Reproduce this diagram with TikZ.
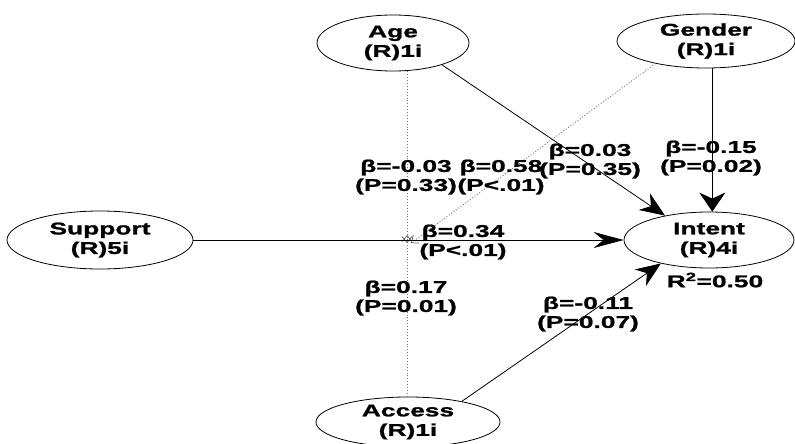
\documentclass[tikz,border=0pt]{standalone}
\usepackage{fontspec}
\newfontfamily\lblfont{Liberation Sans}[FakeStretch=1.55, FakeBold=1.2]
\usetikzlibrary{shapes.geometric,arrows.meta}

\begin{document}
\begin{tikzpicture}[x=1pt,y=-1pt,
  latent/.style={ellipse, draw, line width=0.8pt, inner sep=0pt, align=center,
    font=\lblfont\bfseries\fontsize{17}{19.5}\selectfont},
  coef/.style={align=center, inner sep=0pt,
    font=\lblfont\bfseries\fontsize{17}{19}\selectfont},
  link/.style={draw, line width=0.8pt},
  tiph/.style={-{Stealth[length=30pt,width=16pt,inset=10pt]}},
  tipv/.style={-{Stealth[length=19pt,width=26pt,inset=6pt]}},
  tipd/.style={-{Stealth[length=25pt,width=20pt,inset=8pt]}},
  moder/.style={draw=black!55, dotted, line width=0.9pt,
    -{Straight Barb[length=6pt,width=10pt,line width=0.7pt,black!60]}}
]
\fill[white] (0,0) rectangle (795,444);
\useasboundingbox (0,0) rectangle (795,444);

% constructs
\node[latent, minimum width=186pt, minimum height=58pt] (support) at (100,240) {Support\\(R)5i};
\node[latent, minimum width=152pt, minimum height=56pt] (age) at (393,43) {Age\\(R)1i};
\node[latent, minimum width=178pt, minimum height=54pt] (gender) at (706,41) {Gender\\(R)1i};
\node[latent, minimum width=170pt, minimum height=56pt] (intent) at (709,240) {Intent\\(R)4i};
\node[latent, minimum width=184pt, minimum height=50pt] (access) at (408,422) {Access\\(R)1i};

% moderation point on the Support path
\coordinate (jn) at (407,240);

% moderating effects (dotted)
\draw[moder] (jn |- age.south) -- ([yshift=-3pt]jn);
\draw[moder] (jn |- access.north) -- ([yshift=5pt]jn);
\draw[moder] (gender.204) -- ([shift={(4pt,-3pt)}]jn);

% direct effects
\draw[link, tiph] (support) -- (intent);
\draw[link, tipd] (age.-24) -- (intent.151);
\draw[link, tipv] (gender.-77.5) -- (gender.-77.5 |- intent.north);
\draw[link, tipd] (access.21) -- (intent.206);

% path coefficients
\node[coef] (cage)  at (406,177) {β=-0.03\\(P=0.33)};
\node[coef] (cgen)  at (501,177) {β=0.58\\(P<.01)};
\node[coef] (cai)   at (590,161) {β=0.03\\(P=0.35)};
\node[coef] (cgi)   at (711,158) {β=-0.15\\(P=0.02)};
\node[coef] (csi)   at (463,242) {β=0.34\\(P<.01)};
\node[coef] (cacc)  at (406,298) {β=0.17\\(P=0.01)};
\node[coef] (cxi)   at (588,314) {β=-0.11\\(P=0.07)};
\node[coef] (rsq)   at (715,280) {R\textsuperscript{2}=0.50};
\end{tikzpicture}
\end{document}
